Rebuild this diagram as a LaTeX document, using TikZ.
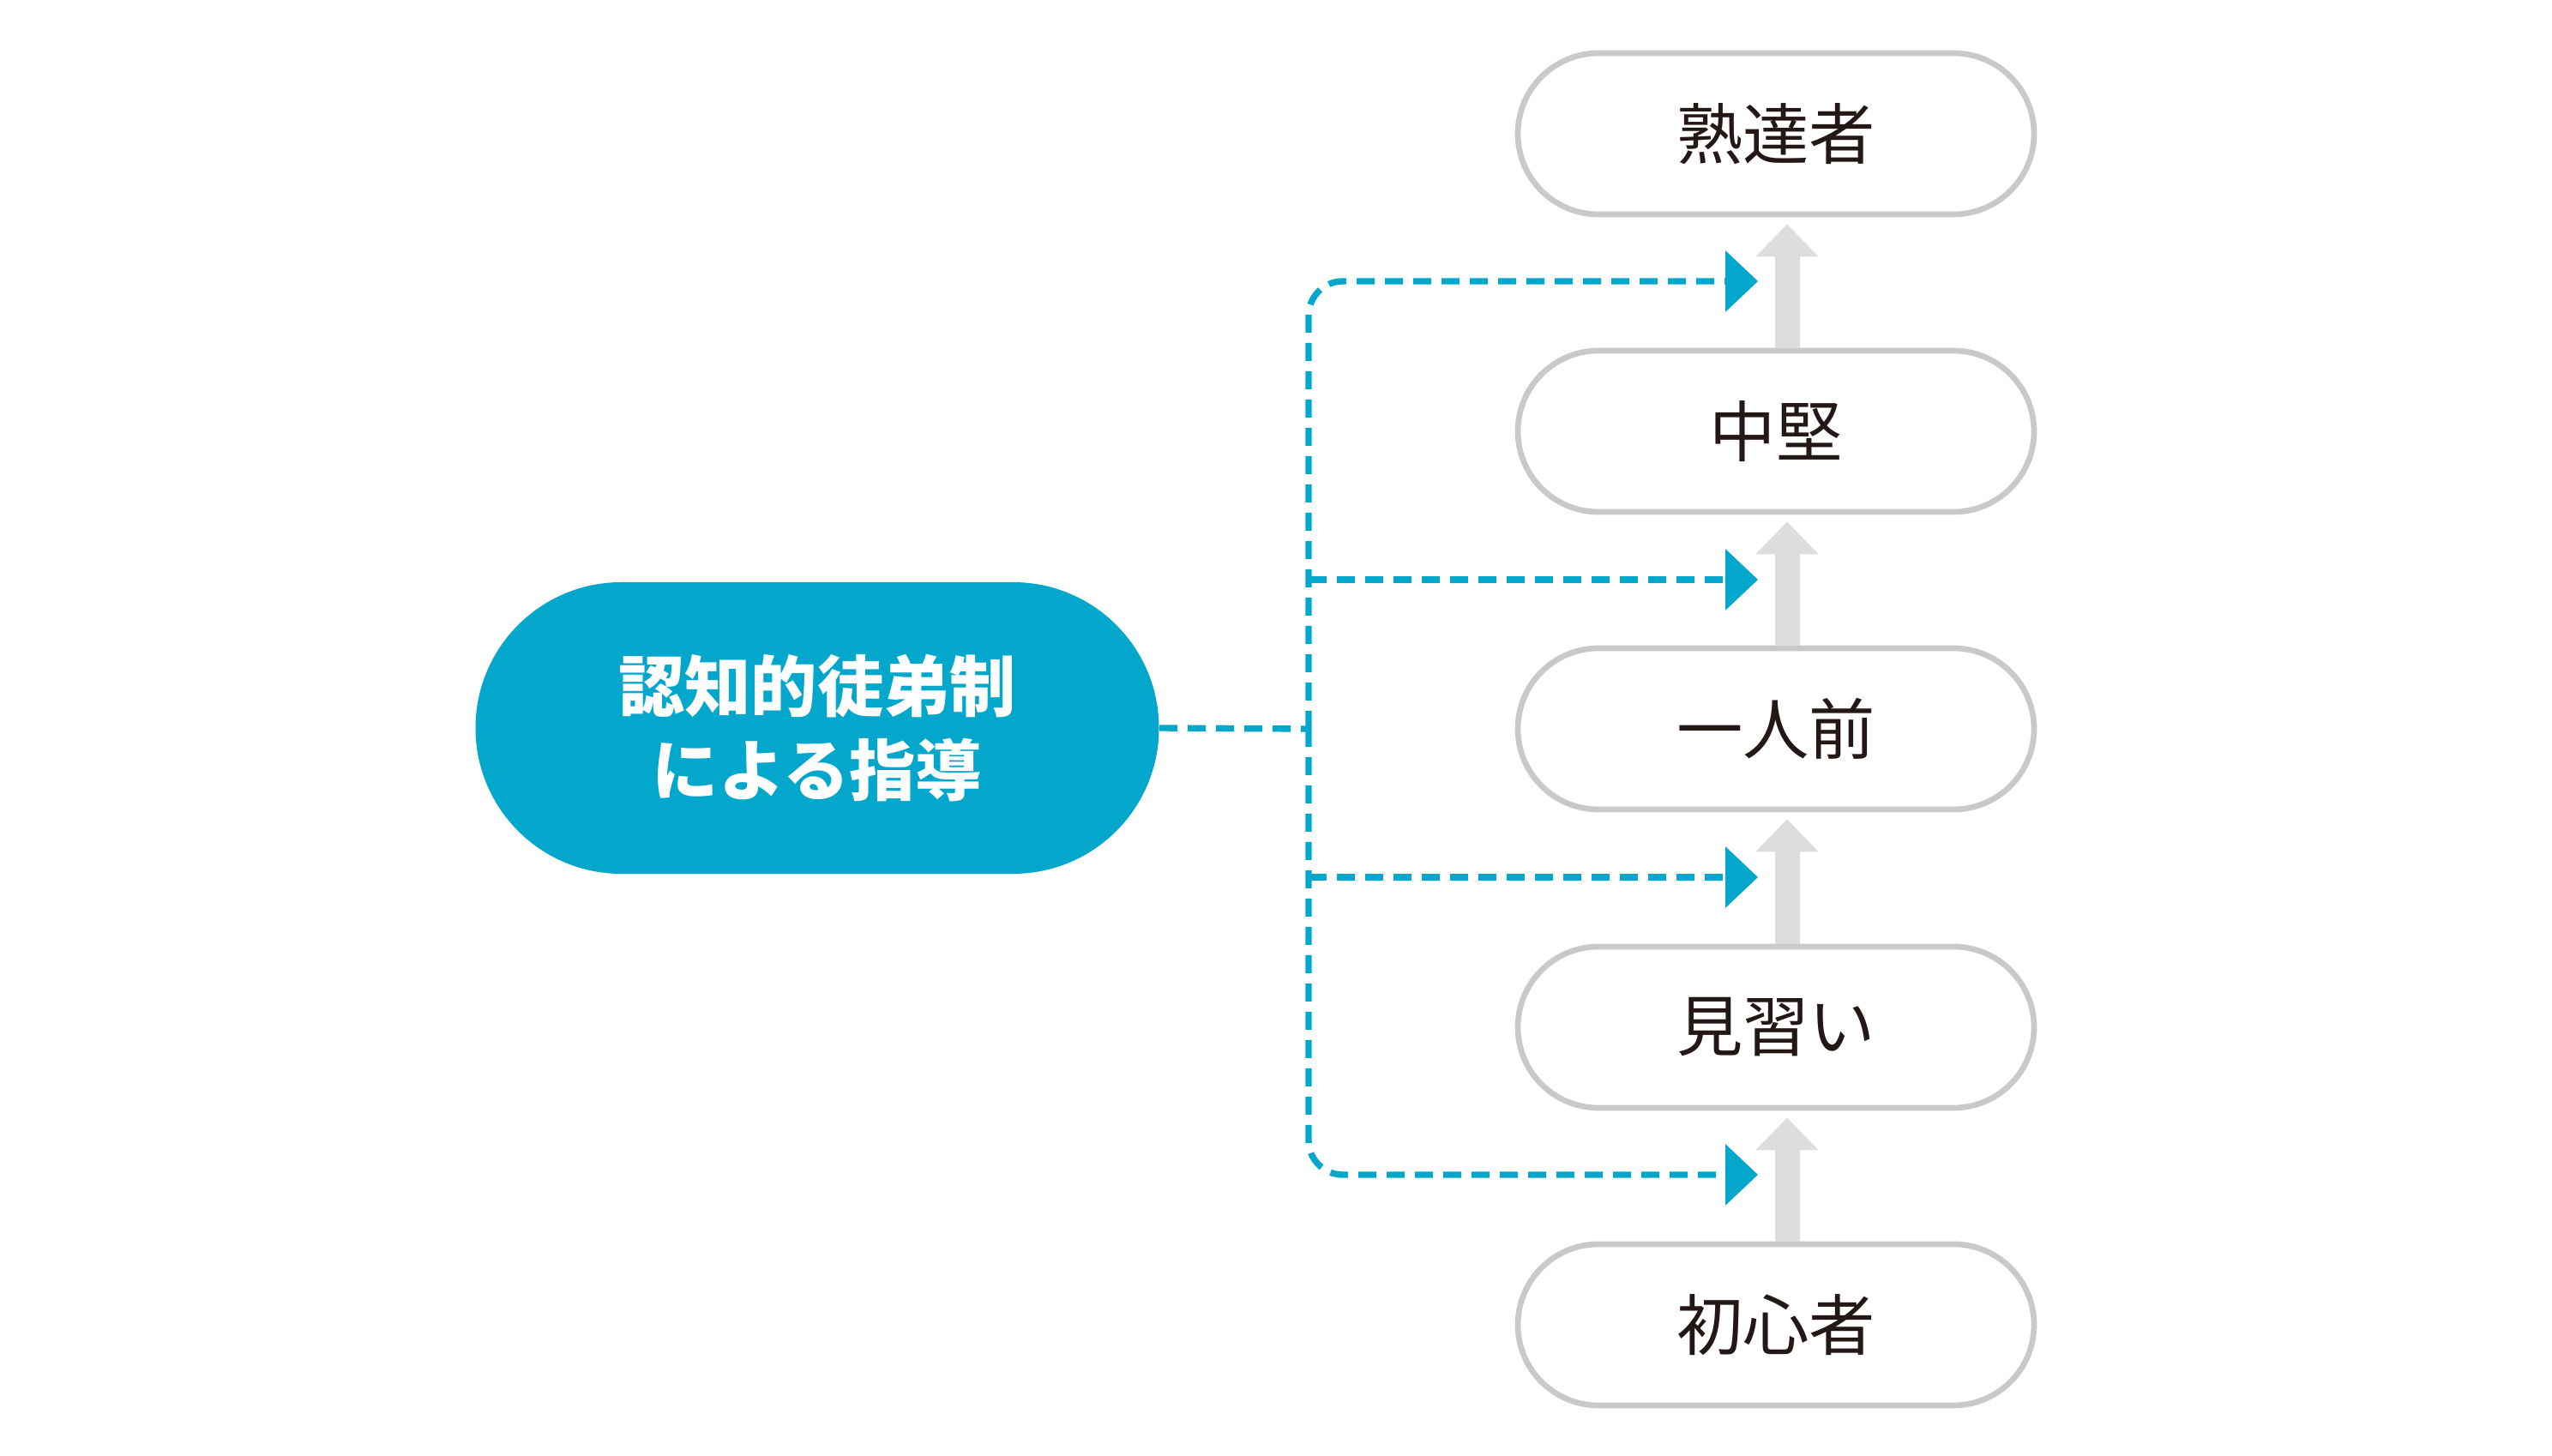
\documentclass[tikz,border=0pt]{standalone}
\usepackage{fontspec}
\newfontfamily\jpfont{Noto Sans CJK JP}
\usepackage{tikz}
\usetikzlibrary{arrows.meta,positioning}
\definecolor{cogblue}{RGB}{2,167,203}
\definecolor{boxgray}{RGB}{200,201,202}
\definecolor{stepgray}{RGB}{220,221,221}
\definecolor{inkdark}{RGB}{35,24,21}

\begin{document}
\begin{tikzpicture}[
  stage/.style={draw=boxgray,line width=1.9pt,fill=white,rounded corners=9.4mm,
    minimum width=60.2mm,minimum height=18.8mm,text=inkdark,
    font=\jpfont\fontsize{22}{26}\selectfont},
  link/.style={draw=cogblue,line width=2.1pt,dash pattern=on 2.1mm off 1.2mm,
    -{Triangle[length=3.8mm,width=7mm]}},
  rise/.style={draw=stepgray,line width=2.9mm,
    -{Triangle[length=3.8mm,width=7.1mm]},shorten >=0.8mm}]
  \useasboundingbox (0,0) rectangle (29.76,16.97);
  \coordinate (ax) at (20.84,0);
  \coordinate (jn) at (15.26,8.47);
  \coordinate (t1) at (20.50,13.69);
  \coordinate (t2) at (20.50,10.21);
  \coordinate (t3) at (20.50,6.74);
  \coordinate (t4) at (20.50,3.27);
  % stages, top to bottom
  \node[stage] (expert) at (20.71,15.41) {熟達者};
  \node[stage] (mid) at (20.71,11.94) {中堅};
  \node[stage] (full) at (20.71,8.47) {一人前};
  \node[stage] (appr) at (20.71,4.99) {見習い};
  \node[stage] (novice) at (20.71,1.52) {初心者};
  \node[fill=cogblue,rounded corners=17mm,minimum width=79.7mm,minimum height=34mm,
    text=white,align=center,font=\jpfont\bfseries\fontsize{22}{28}\selectfont]
    (cog) at (9.53,8.48) {認知的徒弟制\\による指導};
  % upward steps
  \draw[rise] (novice.north -| ax) -- (appr.south -| ax);
  \draw[rise] (appr.north -| ax) -- (full.south -| ax);
  \draw[rise] (full.north -| ax) -- (mid.south -| ax);
  \draw[rise] (mid.north -| ax) -- (expert.south -| ax);
  % guidance links
  \draw[draw=cogblue,line width=2.1pt,dash pattern=on 2.1mm off 1.2mm] (cog.east) -- (jn);
  \draw[link,rounded corners=4mm] (jn) |- (t1);
  \draw[link] (jn |- t2) -- (t2);
  \draw[link] (jn |- t3) -- (t3);
  \draw[link,rounded corners=4mm] (jn) |- (t4);
\end{tikzpicture}
\end{document}
